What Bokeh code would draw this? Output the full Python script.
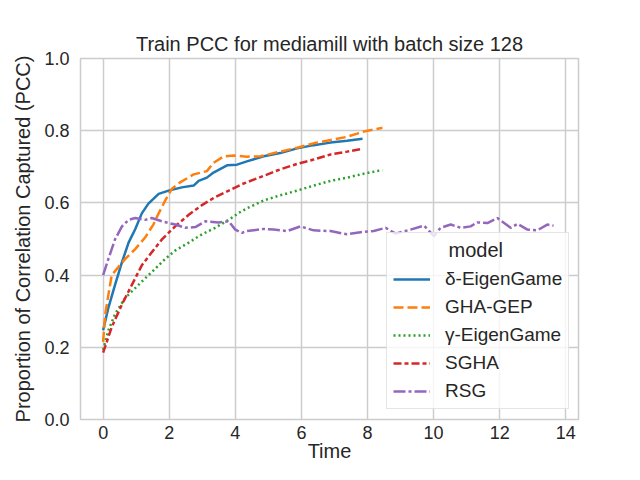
from bokeh.plotting import figure
from bokeh.models import Legend, LegendItem, FixedTicker, Range1d, PrintfTickFormatter
from bokeh.embed import file_html
from bokeh.resources import INLINE

FONT = "Liberation Sans"
TXT = "#262626"

# ---- data ----
delta_x = [0, 0.16, 0.36, 0.57, 0.77, 0.97, 1.17, 1.37, 1.68, 1.98, 2.38, 2.74, 2.89, 3.14, 3.34,
           3.75, 4.05, 4.35, 4.86, 5.36, 5.87, 6.37, 6.88, 7.38, 7.85]
delta_y = [0.247, 0.31, 0.373, 0.436, 0.49, 0.527, 0.571, 0.598, 0.625, 0.634, 0.643, 0.648, 0.661,
           0.67, 0.684, 0.704, 0.706, 0.715, 0.729, 0.738, 0.751, 0.76, 0.767, 0.772, 0.778]

gha_x = [0, 0.06, 0.16, 0.26, 0.46, 0.67, 0.97, 1.27, 1.52, 1.68, 1.88, 2.08, 2.33, 2.74, 3.14, 3.34,
         3.65, 3.95, 4.35, 4.76, 5.36, 5.87, 6.37, 6.88, 7.38, 7.69, 7.89, 8.39, 8.45]
gha_y = [0.215, 0.29, 0.346, 0.4, 0.422, 0.445, 0.472, 0.504, 0.54, 0.571, 0.607, 0.639, 0.657, 0.679,
         0.688, 0.711, 0.729, 0.731, 0.728, 0.729, 0.742, 0.753, 0.765, 0.774, 0.783, 0.792, 0.798,
         0.807, 0.808]

gamma_x = [0, 0.16, 0.36, 0.67, 0.97, 1.27, 1.58, 1.88, 2.18, 2.59, 2.99, 3.39, 3.8, 4.1, 4.35, 4.86,
           5.36, 5.87, 6.37, 6.88, 7.38, 7.89, 8.39, 8.45]
gamma_y = [0.193, 0.247, 0.292, 0.337, 0.364, 0.391, 0.418, 0.445, 0.468, 0.49, 0.513, 0.531, 0.553,
           0.572, 0.585, 0.607, 0.621, 0.634, 0.648, 0.661, 0.67, 0.681, 0.69, 0.69]

sgha_x = [0, 0.26, 0.57, 0.87, 1.17, 1.47, 1.78, 2.18, 2.59, 2.99, 3.39, 3.8, 4.2, 4.86, 5.36, 5.87,
          6.37, 6.88, 7.38, 7.85]
sgha_y = [0.185, 0.256, 0.319, 0.373, 0.427, 0.463, 0.499, 0.535, 0.567, 0.594, 0.616, 0.634, 0.652,
          0.675, 0.693, 0.708, 0.72, 0.734, 0.742, 0.75]

rsg_x = [0, 0.16, 0.36, 0.57, 0.77, 0.97, 1.27, 1.47, 1.78, 2.18, 2.48, 2.79, 3.09, 3.49, 3.8, 4.0,
         4.2, 4.35, 4.86, 5.16, 5.57, 5.97, 6.37, 6.88, 7.38, 7.79, 8.19, 8.55, 8.85, 9.3, 9.71, 10.01,
         10.21, 10.52, 10.82, 11.12, 11.32, 11.63, 11.93, 12.33, 12.54, 12.84, 13.14, 13.44, 13.63]
rsg_y = [0.4, 0.445, 0.499, 0.535, 0.553, 0.558, 0.553, 0.558, 0.549, 0.54, 0.531, 0.533, 0.549, 0.546,
         0.549, 0.526, 0.517, 0.522, 0.528, 0.526, 0.522, 0.535, 0.524, 0.522, 0.513, 0.519, 0.522,
         0.531, 0.515, 0.526, 0.537, 0.508, 0.531, 0.54, 0.531, 0.535, 0.546, 0.544, 0.558, 0.531,
         0.542, 0.526, 0.524, 0.54, 0.537]

model_names = ["δ-EigenGame", "GHA-GEP", "γ-EigenGame", "SGHA", "RSG"]
legend_title = "model"
x_ticks = [0, 2, 4, 6, 8, 10, 12, 14]
y_ticks = [0.0, 0.2, 0.4, 0.6, 0.8, 1.0]

series = [(delta_x, delta_y), (gha_x, gha_y), (gamma_x, gamma_y), (sgha_x, sgha_y), (rsg_x, rsg_y)]
colors = ["#1f77b4", "#ff7f0e", "#2ca02c", "#d62728", "#9467bd"]
dashes = ["solid", "10 4", "2 3", "8 3 4 3", "12 3 3 3"]

p = figure(width=624, height=464, output_backend="svg", toolbar_location=None,
           x_range=Range1d(-0.685, 14.385), y_range=Range1d(0, 1),
           min_border_left=80, min_border_right=46, min_border_top=58, min_border_bottom=30)

p.title.text = "Train PCC for mediamill with batch size 128"
p.title.align = "center"
p.title.text_font = FONT
p.title.text_font_size = "20px"
p.title.text_font_style = "normal"
p.title.text_color = TXT
p.title.standoff = 8

p.background_fill_color = "white"
p.border_fill_color = "white"
p.outline_line_color = "#cccccc"
p.outline_line_width = 1.5

for ax in (p.xaxis, p.yaxis):
    ax.axis_line_color = None
    ax.major_tick_line_color = None
    ax.minor_tick_line_color = None
    ax.major_tick_out = 0
    ax.major_tick_in = 0
    ax.major_label_text_font = FONT
    ax.major_label_text_font_size = "18px"
    ax.major_label_text_color = TXT
    ax.axis_label_text_font = FONT
    ax.axis_label_text_font_size = "20px"
    ax.axis_label_text_font_style = "normal"
    ax.axis_label_text_color = TXT

p.xaxis.ticker = FixedTicker(ticks=x_ticks)
p.yaxis.ticker = FixedTicker(ticks=y_ticks)
p.yaxis.formatter = PrintfTickFormatter(format="%.1f")
p.xaxis.axis_label = "Time"
p.yaxis.axis_label = "Proportion of Correlation Captured (PCC)"
p.xaxis.major_label_standoff = 6
p.xaxis.axis_label_standoff = -2
p.yaxis.major_label_standoff = 11
p.yaxis.axis_label_standoff = 7

p.xgrid.grid_line_color = "#cccccc"
p.ygrid.grid_line_color = "#cccccc"
p.xgrid.grid_line_width = 1.5
p.ygrid.grid_line_width = 1.5

items = []
for (xs, ys), c, d, name in zip(series, colors, dashes, model_names):
    r = p.line(xs, ys, line_color=c, line_width=2.5, line_dash=d)
    items.append(LegendItem(label=name, renderers=[r]))

# non-breaking spaces push the legend title towards the centre of the box
legend = Legend(items=items, location=(306, 10), title="\u00a0" * 10 + legend_title,
                title_text_font=FONT, title_text_font_size="20px", title_text_font_style="normal",
                title_text_color=TXT, title_standoff=6,
                label_text_font=FONT, label_text_font_size="19px", label_text_color=TXT,
                glyph_width=37, glyph_height=20, label_height=20, label_standoff=15,
                spacing=6, padding=6, margin=0,
                border_line_color="#cccccc", border_line_width=1,
                background_fill_color="white", background_fill_alpha=0.8)
p.add_layout(legend, "center")

open("out.html", "w").write(file_html(p, INLINE))
